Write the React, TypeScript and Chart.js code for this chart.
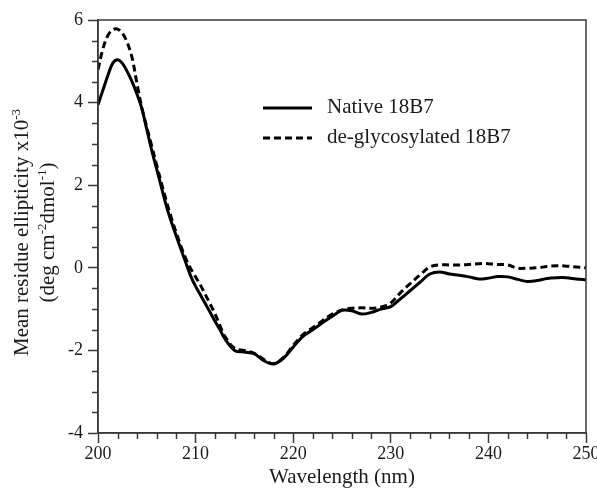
import React, { useEffect, useRef } from 'react';
import { Chart, registerables } from 'chart.js';

Chart.register(...registerables);

// ---- data ----
const wavelengths = [
  200, 200.5, 201, 201.5, 202, 202.5, 203, 203.5, 204, 204.5, 205, 205.5, 206, 206.5,
  207, 207.5, 208, 208.5, 209, 209.5, 210, 210.5, 211, 211.5, 212, 212.5,
  213, 214, 215, 216, 217, 218, 219, 220, 221, 222, 223, 224, 225, 226, 227, 228, 229,
  230, 231, 232, 233, 234, 235, 236, 237, 238, 239, 240, 241, 242, 243, 244, 245, 246,
  247, 248, 249, 250,
];

const nativeValues = [
  3.95, 4.3, 4.65, 4.95, 5.04, 4.95, 4.75, 4.5, 4.2, 3.85, 3.35, 2.85, 2.4, 1.95,
  1.5, 1.12, 0.78, 0.45, 0.12, -0.2, -0.45, -0.66, -0.87, -1.08, -1.3, -1.5,
  -1.72, -2.0, -2.04, -2.08, -2.25, -2.33, -2.19, -1.92, -1.66, -1.5, -1.33, -1.17, -1.03, -1.04, -1.12, -1.08, -1.0,
  -0.94, -0.75, -0.55, -0.35, -0.15, -0.1, -0.15, -0.18, -0.22, -0.27, -0.25, -0.21, -0.22, -0.28, -0.33, -0.31, -0.26,
  -0.24, -0.24, -0.27, -0.29,
];

const deglycoValues = [
  4.8, 5.3, 5.62, 5.76, 5.78, 5.68, 5.45, 5.08, 4.45, 3.87, 3.4, 2.95, 2.5, 2.05,
  1.62, 1.22, 0.86, 0.52, 0.22, -0.02, -0.22, -0.42, -0.65, -0.88, -1.12, -1.4,
  -1.66, -1.95, -2.0, -2.07, -2.22, -2.32, -2.17, -1.88, -1.62, -1.45, -1.28, -1.12, -1.02, -0.98, -0.97, -0.98, -0.95,
  -0.85, -0.6, -0.38, -0.17, 0.02, 0.07, 0.07, 0.07, 0.08, 0.1, 0.1, 0.08, 0.07, -0.01, -0.01, 0.0, 0.03,
  0.05, 0.04, 0.02, 0.0,
];

const seriesNames = ['Native 18B7', 'de-glycosylated 18B7'];
const xMajorTicks = [200, 210, 220, 230, 240, 250];
const yMajorTicks = [-4, -2, 0, 2, 4, 6];
const xTitle = 'Wavelength (nm)';
const yTitleLine1 = [
  { text: 'Mean residue ellipticity x10', sup: false },
  { text: '-3', sup: true },
];
const yTitleLine2 = [
  { text: '(deg cm', sup: false },
  { text: '-2', sup: true },
  { text: 'dmol', sup: false },
  { text: '-1', sup: true },
  { text: ')', sup: false },
];

// ---- styles ----
const FONT = '"Liberation Serif", "Times New Roman", serif';
const TEXT = '#1a1a1a';
const AXIS = '#3a3a3a';
const LINE = '#000000';

const isMajor = (list: number[], v: number) => list.some((m) => Math.abs(m - v) < 1e-6);

const decorPlugin = {
  id: 'decor',
  afterDraw(chart: any) {
    const { ctx, chartArea: a, scales } = chart;
    ctx.save();
    // frame
    ctx.strokeStyle = AXIS;
    ctx.lineWidth = 1.5;
    ctx.setLineDash([]);
    ctx.strokeRect(a.left, a.top, a.right - a.left, a.bottom - a.top);

    // minor ticks
    const xs = scales.x;
    xs.ticks.forEach((t: any) => {
      if (!isMajor(xMajorTicks, t.value)) {
        const p = Math.round(xs.getPixelForValue(t.value)) + 0.5;
        ctx.beginPath();
        ctx.moveTo(p, a.bottom);
        ctx.lineTo(p, a.bottom + 6);
        ctx.stroke();
      }
    });
    const ys = scales.y;
    ys.ticks.forEach((t: any) => {
      if (!isMajor(yMajorTicks, t.value)) {
        const p = Math.round(ys.getPixelForValue(t.value)) + 0.5;
        ctx.beginPath();
        ctx.moveTo(a.left - 6, p);
        ctx.lineTo(a.left, p);
        ctx.stroke();
      }
    });

    // legend
    const lx0 = 263, lx1 = 312, tx = 327;
    const ly = [108, 138];
    ctx.strokeStyle = LINE;
    ctx.lineWidth = 3;
    ctx.setLineDash([]);
    ctx.beginPath();
    ctx.moveTo(lx0, ly[0]);
    ctx.lineTo(lx1, ly[0]);
    ctx.stroke();
    ctx.setLineDash([7, 4]);
    ctx.beginPath();
    ctx.moveTo(lx0, ly[1]);
    ctx.lineTo(lx1, ly[1]);
    ctx.stroke();
    ctx.setLineDash([]);
    ctx.fillStyle = TEXT;
    ctx.font = `21px ${FONT}`;
    ctx.textBaseline = 'middle';
    ctx.textAlign = 'left';
    ctx.fillText(seriesNames[0], tx, ly[0] - 1);
    ctx.fillText(seriesNames[1], tx, ly[1] - 1);

    // y title (two lines, with superscripts)
    const drawRich = (segs: { text: string; sup: boolean }[], bx: number, cy: number) => {
      ctx.save();
      ctx.translate(bx, cy);
      ctx.rotate(-Math.PI / 2);
      ctx.textBaseline = 'alphabetic';
      ctx.textAlign = 'left';
      const main = `21px ${FONT}`;
      const sup = `13px ${FONT}`;
      let total = 0;
      segs.forEach((s) => {
        ctx.font = s.sup ? sup : main;
        total += ctx.measureText(s.text).width;
      });
      let x = -total / 2;
      segs.forEach((s) => {
        ctx.font = s.sup ? sup : main;
        ctx.fillText(s.text, x, s.sup ? -8 : 0);
        x += ctx.measureText(s.text).width;
      });
      ctx.restore();
    };
    const cy = (a.top + a.bottom) / 2 + 6;
    drawRich(yTitleLine1, 28, cy);
    drawRich(yTitleLine2, 54, cy);
    ctx.restore();
  },
};

export default function App() {
  const ref = useRef<HTMLCanvasElement | null>(null);
  useEffect(() => {
    document.body.style.margin = '0';
    const canvas = ref.current;
    if (!canvas) return;
    Chart.defaults.font.family = FONT;
    Chart.defaults.color = TEXT;
    const chart = new Chart(canvas, {
      type: 'line',
      data: {
        datasets: [
          {
            label: seriesNames[0],
            data: wavelengths.map((w, i) => ({ x: w, y: nativeValues[i] })),
            borderColor: LINE,
            borderWidth: 3,
            pointRadius: 0,
            tension: 0.35,
            fill: false,
          },
          {
            label: seriesNames[1],
            data: wavelengths.map((w, i) => ({ x: w, y: deglycoValues[i] })),
            borderColor: LINE,
            borderWidth: 3,
            borderDash: [7, 4],
            pointRadius: 0,
            tension: 0.35,
            fill: false,
          },
        ],
      },
      options: {
        responsive: false,
        animation: false,
        devicePixelRatio: 1,
        layout: { padding: { left: 0, right: 11, top: 20, bottom: 0 } },
        plugins: {
          legend: { display: false },
          tooltip: { enabled: false },
        },
        scales: {
          x: {
            type: 'linear',
            min: 200,
            max: 250,
            afterFit: (s: any) => {
              s.height = 57;
              s.paddingLeft = 0;
              s.paddingRight = 0;
            },
            ticks: {
              stepSize: 2,
              autoSkip: false,
              maxRotation: 0,
              padding: 0,
              font: { size: 18, family: FONT },
              color: TEXT,
              callback: (v: any) => (isMajor(xMajorTicks, Number(v)) ? String(Math.round(Number(v))) : ''),
            },
            grid: {
              display: true,
              drawOnChartArea: false,
              drawTicks: true,
              tickLength: 10,
              tickWidth: 1.5,
              tickColor: (c: any) => (c.tick && isMajor(xMajorTicks, c.tick.value) ? AXIS : 'rgba(0,0,0,0)'),
            },
            border: { display: true, color: AXIS, width: 1.5 },
            title: {
              display: true,
              text: xTitle,
              color: TEXT,
              font: { size: 21, family: FONT, lineHeight: 1 },
              padding: { top: 0, bottom: 2 },
            },
          },
          y: {
            type: 'linear',
            min: -4,
            max: 6,
            afterFit: (s: any) => {
              s.width = 98;
            },
            ticks: {
              stepSize: 0.5,
              autoSkip: false,
              maxTicksLimit: 100,
              padding: 5,
              font: { size: 18, family: FONT },
              color: TEXT,
              callback: (v: any) => {
                const n = Math.round(Number(v) * 2) / 2;
                return isMajor(yMajorTicks, n) ? String(n) : '';
              },
            },
            grid: {
              display: true,
              drawOnChartArea: false,
              drawTicks: true,
              tickLength: 10,
              tickWidth: 1.5,
              tickColor: (c: any) => (c.tick && isMajor(yMajorTicks, c.tick.value) ? AXIS : 'rgba(0,0,0,0)'),
            },
            border: { display: true, color: AXIS, width: 1.5 },
          },
        },
      },
      plugins: [decorPlugin],
    } as any);
    return () => chart.destroy();
  }, []);
  return <canvas ref={ref} width={597} height={490} style={{ display: 'block' }} />;
}
